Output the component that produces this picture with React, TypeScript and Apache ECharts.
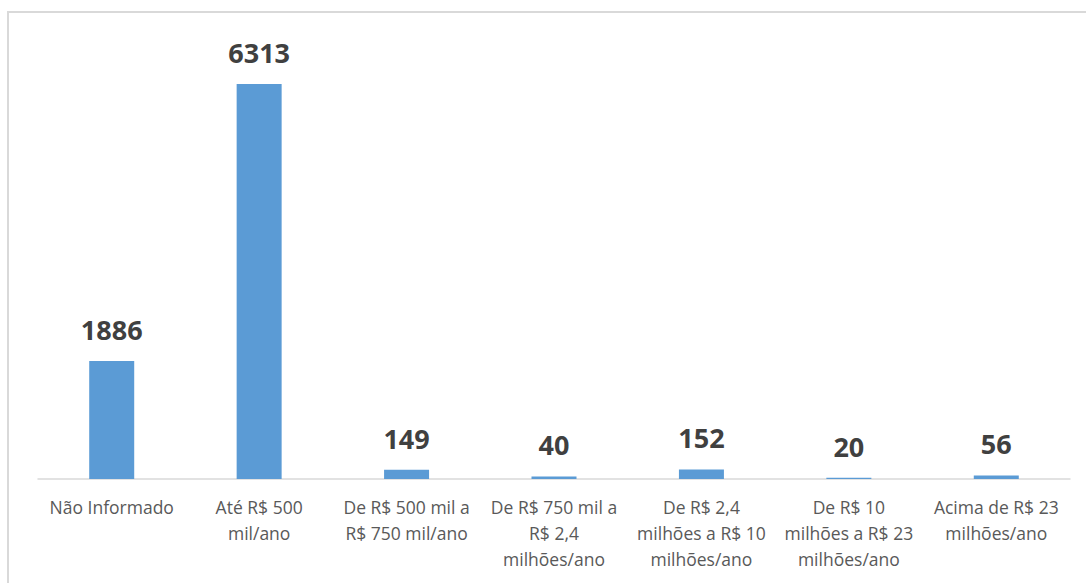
import React, { useEffect, useRef } from "react";
import * as echarts from "echarts";

const categories = [
  "Não Informado",
  "Até R$ 500\nmil/ano",
  "De R$ 500 mil a\nR$ 750 mil/ano",
  "De R$ 750 mil a\nR$ 2,4\nmilhões/ano",
  "De R$ 2,4\nmilhões a R$ 10\nmilhões/ano",
  "De R$ 10\nmilhões a R$ 23\nmilhões/ano",
  "Acima de R$ 23\nmilhões/ano",
];
const values = [1886, 6313, 149, 40, 152, 20, 56];

export default function App() {
  const ref = useRef<HTMLDivElement>(null);
  useEffect(() => {
    const chart = echarts.init(ref.current!, undefined, { renderer: "svg" });
    chart.setOption({
      animation: false,
      backgroundColor: "#ffffff",
      graphic: [
        {
          type: "rect",
          shape: { x: 8, y: 12, width: 1100, height: 600 },
          style: { fill: "none", stroke: "#d9d9d9", lineWidth: 2 },
          silent: true,
        },
      ],
      grid: { left: 38, right: 16, top: 41, bottom: 104, containLabel: false },
      xAxis: {
        type: "category",
        data: categories,
        axisLine: { show: true, lineStyle: { color: "#d9d9d9", width: 1.5 } },
        axisTick: { show: false },
        axisLabel: {
          interval: 0,
          color: "#595959",
          fontFamily: "Open Sans",
          fontSize: 17.5,
          lineHeight: 26,
          margin: 15,
        },
      },
      yAxis: {
        type: "value",
        min: 0,
        max: 7000,
        show: false,
        splitLine: { show: false },
      },
      series: [
        {
          type: "bar",
          data: values,
          barWidth: 45,
          itemStyle: { color: "#5b9bd5" },
          label: {
            show: true,
            position: "top",
            distance: 18,
            color: "#404040",
            fontFamily: "Open Sans",
            fontWeight: "bold",
            fontSize: 27,
          },
        },
      ],
    });
    return () => chart.dispose();
  }, []);
  return (
    <div
      ref={ref}
      style={{ position: "absolute", left: 0, top: 0, width: 1086, height: 583 }}
    />
  );
}
